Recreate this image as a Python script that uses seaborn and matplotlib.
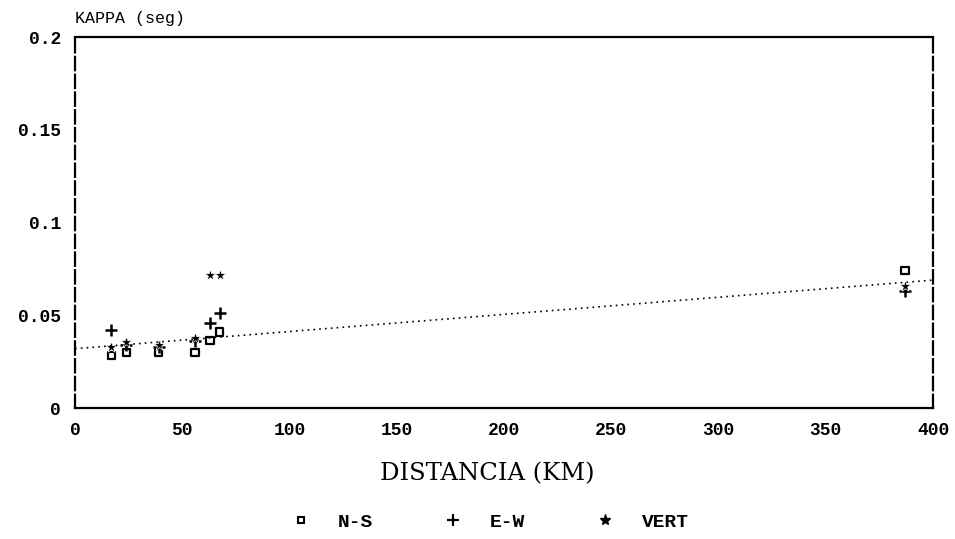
import matplotlib
matplotlib.use("Agg")
import matplotlib.pyplot as plt
from matplotlib.lines import Line2D
import seaborn as sns
import pandas as pd

# Station distances (km) and kappa values (s) per component
distancia = [17, 24, 39, 56, 63, 67.5, 387]
kappa_ns = [0.0285, 0.030, 0.030, 0.030, 0.0365, 0.041, 0.074]
kappa_ew = [0.042, 0.034, 0.033, 0.036, 0.046, 0.051, 0.063]
kappa_vert = [0.033, 0.0355, 0.034, 0.0378, 0.072, 0.072, 0.066]

# Linear trend of kappa with distance
trend_x = [0, 400]
trend_y = [0.032, 0.069]

x_ticks = [0, 50, 100, 150, 200, 250, 300, 350, 400]
y_ticks = [0, 0.05, 0.1, 0.15, 0.2]
y_tick_labels = ["0", "0.05", "0.1", "0.15", "0.2"]

sns.set_theme(style="white")
plt.rcParams["font.family"] = ["Liberation Mono", "DejaVu Sans Mono"]
plt.rcParams["text.color"] = "black"
plt.rcParams["axes.labelcolor"] = "black"

df = pd.DataFrame({
    "dist": distancia * 3,
    "kappa": kappa_ns + kappa_ew + kappa_vert,
    "comp": ["N-S"] * len(distancia) + ["E-W"] * len(distancia) + ["VERT"] * len(distancia),
})

fig = plt.figure(figsize=(9.55, 5.39), dpi=100)
ax = fig.add_axes([0.0785, 0.243, 0.8985, 0.688])

sns.lineplot(x=trend_x, y=trend_y, ax=ax, color="black", linestyle=(0, (1, 2.5)),
             linewidth=1.2, legend=False)

sns.scatterplot(data=df[df.comp == "N-S"], x="dist", y="kappa", ax=ax, marker="s",
                s=28, facecolor="none", edgecolor="black", linewidth=1.6, legend=False)
sns.scatterplot(data=df[df.comp == "E-W"], x="dist", y="kappa", ax=ax, marker="+",
                s=70, color="black", linewidth=1.8, legend=False)
sns.scatterplot(data=df[df.comp == "VERT"], x="dist", y="kappa", ax=ax, marker="*",
                s=70, color="black", linewidth=0.5, legend=False)

ax.set_xlim(0, 400)
ax.set_ylim(0, 0.2)
ax.set_xticks(x_ticks)
ax.set_xticklabels([str(v) for v in x_ticks])
ax.set_yticks(y_ticks)
ax.set_yticklabels(y_tick_labels)
ax.tick_params(axis="both", direction="in", length=7, width=1.3, colors="black",
               labelsize=13, pad=10)
for lab in ax.get_xticklabels() + ax.get_yticklabels():
    lab.set_fontweight("bold")

for side in ["top", "bottom"]:
    ax.spines[side].set_linewidth(1.6)
    ax.spines[side].set_color("black")
for side in ["left", "right"]:
    ax.spines[side].set_linewidth(1.6)
    ax.spines[side].set_color("black")
    ax.spines[side].set_linestyle((0, (6, 2)))

ax.set_xlabel("DISTANCIA (KM)", fontsize=17.5, color="black", family=["DejaVu Serif"])
ax.xaxis.set_label_coords(0.48, -0.145)
ax.set_ylabel("")
ax.text(0.0, 1.03, "KAPPA (seg)", transform=ax.transAxes, fontsize=12,
        ha="left", va="bottom", color="black")

handles = [
    Line2D([], [], marker="s", linestyle="none", markerfacecolor="none",
           markeredgecolor="black", markersize=5, markeredgewidth=1.5),
    Line2D([], [], marker="+", linestyle="none", color="black", markersize=8,
           markeredgewidth=1.6),
    Line2D([], [], marker="*", linestyle="none", color="black", markersize=8),
]
fig.legend(handles, ["N-S", "E-W", "VERT"], loc="center", bbox_to_anchor=(0.508, 0.032),
           ncol=3, frameon=False, handletextpad=0.9, columnspacing=3.1,
           prop={"weight": "bold", "size": 14, "family": "Liberation Mono"},
           labelcolor="black")

fig.savefig("out.png", dpi=100)
